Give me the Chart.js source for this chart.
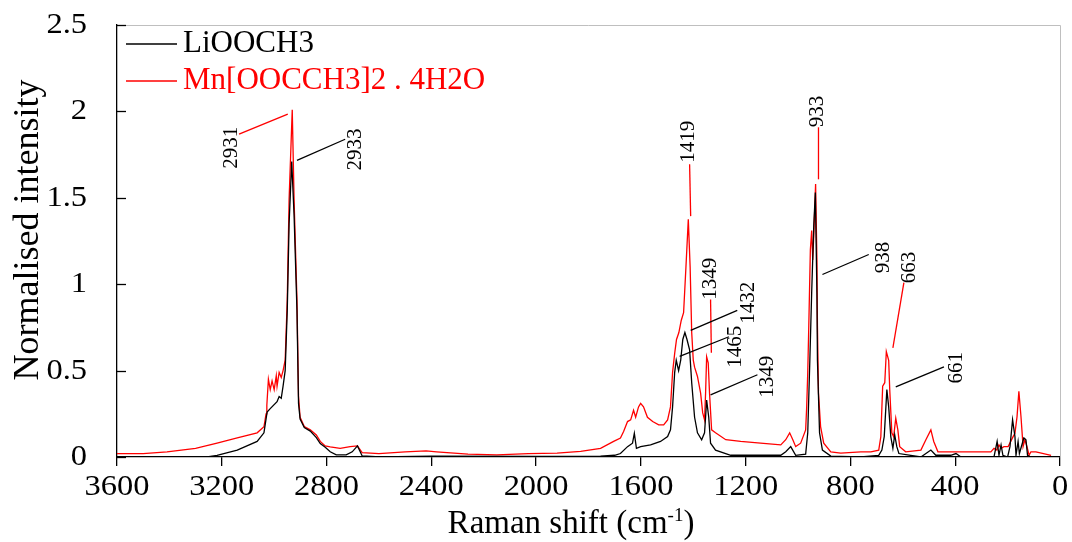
<!DOCTYPE html>
<html><head><meta charset="utf-8">
<script src="https://cdn.jsdelivr.net/npm/chart.js@4"></script>
<style>html,body{margin:0;padding:0;background:#fff}#wrap{width:1072px;height:542px;position:relative}</style>
</head><body><div id="wrap"><canvas id="c"></canvas></div>
<script>
// ---------- data ----------
const seriesNames = ['LiOOCH3', 'Mn[OOCCH3]2 . 4H2O'];
const seriesColors = ['#000000', '#ff0000'];

const liShift = [3450,3256,3218,3141,3065,3039,3027,3015,2989,2981,2973,2966,2958,2950,2943,2933,2924,2913,2907,2901,2885,2862,2839,2824,2805,2786,2763,2725,2702,2682,2664,2595,2400,2000,1754,1700,1678,1651,1632,1625,1617,1601,1563,1525,1498,1487,1479,1471,1465,1456,1448,1440,1432,1424,1414,1406,1395,1384,1368,1357,1353,1349,1341,1334,1315,1257,1066,1047,1028,1009,971,963,955,948,940,934,928,926,918,907,875,760,692,680,671,661,654,646,638,631,623,615,531,493,474,417,397,378,252,240,233,225,218,200,191,181,172,168,160,155,138,130,124,111];
const liIntensity = [0,0,0.01,0.04,0.09,0.14,0.26,0.28,0.32,0.35,0.34,0.41,0.50,0.85,1.35,1.71,1.40,0.85,0.31,0.22,0.17,0.15,0.112,0.078,0.056,0.03,0.012,0.012,0.03,0.064,0.006,0,0.005,0.003,0.005,0.01,0.02,0.06,0.08,0.137,0.05,0.06,0.07,0.09,0.118,0.157,0.29,0.49,0.56,0.50,0.56,0.68,0.72,0.68,0.62,0.43,0.23,0.14,0.1,0.14,0.23,0.33,0.23,0.08,0.04,0.01,0.01,0.03,0.06,0.01,0.017,0.14,0.56,0.95,1.34,1.53,0.95,0.56,0.14,0.04,0.005,0,0.01,0.04,0.118,0.39,0.29,0.118,0.05,0.128,0.06,0.02,0,0.04,0.01,0.01,0.02,0,0,0.09,0.01,0.07,0.01,0,0.06,0.215,0.118,0.01,0.09,0.02,0.11,0.1,0.01,0];

const mnShift = [3600,3500,3409,3300,3218,3141,3065,3039,3031,3028,3022,3015,3008,3000,2992,2989,2981,2973,2966,2958,2950,2943,2931,2924,2913,2907,2901,2885,2862,2839,2824,2805,2786,2748,2710,2682,2664,2600,2500,2420,2380,2260,2150,2030,1920,1830,1754,1704,1678,1666,1651,1639,1628,1620,1609,1601,1590,1575,1555,1532,1513,1498,1487,1479,1471,1464,1455,1446,1437,1428,1419,1412,1406,1400,1395,1384,1372,1364,1357,1353,1349,1343,1338,1330,1315,1276,1219,1143,1066,1047,1032,1020,1009,990,971,967,963,959,953,948,944,940,933,928,926,922,914,902,875,837,760,722,692,684,677,669,663,654,650,642,635,627,619,612,589,531,512,493,482,466,417,359,264,252,241,233,225,214,198,179,172,164,157,149,141,134,126,118,111,92,34];
const mnIntensity = [0.02,0.02,0.03,0.05,0.08,0.11,0.14,0.175,0.25,0.30,0.45,0.39,0.44,0.39,0.47,0.41,0.49,0.46,0.50,0.56,0.91,1.49,2.01,1.49,0.91,0.35,0.23,0.176,0.157,0.128,0.09,0.064,0.058,0.05,0.06,0.064,0.025,0.02,0.03,0.035,0.03,0.017,0.012,0.02,0.023,0.033,0.05,0.09,0.11,0.147,0.205,0.215,0.27,0.23,0.29,0.31,0.29,0.23,0.205,0.186,0.186,0.215,0.29,0.49,0.60,0.68,0.72,0.79,0.835,1.10,1.375,1.10,0.72,0.56,0.52,0.466,0.37,0.255,0.215,0.37,0.58,0.545,0.37,0.157,0.14,0.1,0.09,0.08,0.07,0.1,0.14,0.1,0.06,0.08,0.157,0.29,0.49,0.76,1.20,1.31,1.14,1.28,1.58,1.14,0.76,0.37,0.176,0.08,0.03,0.023,0.03,0.03,0.04,0.118,0.41,0.43,0.61,0.56,0.39,0.14,0.118,0.224,0.157,0.06,0.03,0.04,0.1,0.157,0.09,0.03,0.03,0.03,0.03,0.05,0.04,0.07,0.05,0.06,0.06,0.118,0.137,0.234,0.38,0.234,0.06,0.1,0.06,0.01,0.03,0.03,0.01];

const xTickValues = [3600,3200,2800,2400,2000,1600,1200,800,400,0];
const yTickValues = [0,0.5,1,1.5,2,2.5];
const xTitle = 'Raman shift (cm';
const xTitleSup = '-1';
const yTitle = 'Normalised intensity';

// peak annotations: text, series index, text centre (shift, intensity), leader line ends
const peakText   = ['2931','2933','1419','933','1349','1432','1465','1349','938','663','661'];
const peakSeries = [1,0,1,1,1,0,0,0,0,1,0];
const peakTextX  = [3162,2690,1418,927,1334,1189,1238,1117,673,573,394];
const peakTextY  = [1.79,1.78,1.824,2.0,1.032,0.893,0.638,0.464,1.154,1.096,0.516];
const leaderFromX = [3134,2913,1414,922,1334,1410,1452,1334,907,596,627];
const leaderFromY = [1.868,1.717,1.694,1.908,0.911,0.733,0.582,0.36,1.056,1.009,0.406];
const leaderToX   = [2948,2729,1410,922,1331,1232,1264,1155,730,638,443];
const leaderToY   = [1.984,1.839,1.394,1.607,0.603,0.849,0.696,0.476,1.172,0.632,0.522];

// ---------- helpers ----------
const FONT = '"Liberation Serif", "Times New Roman", serif';
function drawText(ctx, txt, x, y, o) {
  ctx.save();
  ctx.translate(x, y);
  if (o.rot) ctx.rotate(o.rot);
  ctx.scale(o.sx || 1, o.sy || 1);
  ctx.font = o.size + 'px ' + FONT;
  ctx.fillStyle = o.color || '#000';
  ctx.textAlign = o.align || 'center';
  ctx.textBaseline = o.baseline || 'middle';
  ctx.fillText(txt, 0, 0);
  ctx.restore();
}

const decor = {
  id: 'decor',
  afterDraw(chart) {
    const ctx = chart.ctx, a = chart.chartArea;
    const xs = chart.scales.x, ys = chart.scales.y;
    ctx.save();
    // gray frame top/right
    ctx.strokeStyle = '#bfbfbf'; ctx.lineWidth = 1;
    ctx.beginPath();
    ctx.moveTo(a.left, a.top + 0.5); ctx.lineTo(a.right + 0.5, a.top + 0.5); ctx.lineTo(a.right + 0.5, a.bottom);
    ctx.stroke();
    // y ticks (inside)
    ctx.strokeStyle = '#000'; ctx.lineWidth = 1.3;
    yTickValues.forEach(v => {
      const py = Math.round(ys.getPixelForValue(v)) + 0.5;
      ctx.beginPath(); ctx.moveTo(a.left, py); ctx.lineTo(a.left + 9, py); ctx.stroke();
      drawText(ctx, String(v), a.left - 30, py, {size: 29, sx: 1.12, align: 'right'});
    });
    // x tick labels
    xTickValues.forEach(v => {
      const px = xs.getPixelForValue(v);
      drawText(ctx, String(v), px, a.bottom + 30, {size: 29, sx: 1.12});
    });
    // axis titles
    drawText(ctx, yTitle, 29, 230, {size: 36, rot: -Math.PI / 2});
    ctx.font = '33px ' + FONT;
    const w1 = ctx.measureText(xTitle).width;
    ctx.font = '19px ' + FONT;
    const w2 = ctx.measureText(xTitleSup).width;
    ctx.font = '33px ' + FONT;
    const w3 = ctx.measureText(')').width;
    let sx0 = 571 - (w1 + w2 + w3) / 2;
    const base = 533;
    drawText(ctx, xTitle, sx0, base, {size: 33, align: 'left', baseline: 'alphabetic'});
    drawText(ctx, xTitleSup, sx0 + w1, base - 12, {size: 19, align: 'left', baseline: 'alphabetic'});
    drawText(ctx, ')', sx0 + w1 + w2, base, {size: 33, align: 'left', baseline: 'alphabetic'});
    // annotations
    peakText.forEach((t, i) => {
      ctx.strokeStyle = seriesColors[peakSeries[i]]; ctx.lineWidth = 1.3;
      ctx.beginPath();
      ctx.moveTo(xs.getPixelForValue(leaderFromX[i]), ys.getPixelForValue(leaderFromY[i]));
      ctx.lineTo(xs.getPixelForValue(leaderToX[i]), ys.getPixelForValue(leaderToY[i]));
      ctx.stroke();
      drawText(ctx, t, xs.getPixelForValue(peakTextX[i]), ys.getPixelForValue(peakTextY[i]), {size: 21, rot: -Math.PI / 2});
    });
    // legend
    chart.data.datasets.forEach((ds, i) => {
      const ly = a.top + 19 + i * 37;
      ctx.strokeStyle = ds.borderColor; ctx.lineWidth = 1.3;
      ctx.beginPath(); ctx.moveTo(a.left + 9, ly); ctx.lineTo(a.left + 60, ly); ctx.stroke();
      drawText(ctx, ds.label, a.left + 66, ly, {size: 31, align: 'left', color: ds.borderColor});
    });
    ctx.restore();
  }
};

const toPoints = (xsArr, ysArr) => xsArr.map((x, i) => ({x, y: ysArr[i]}));

new Chart(document.getElementById('c'), {
  type: 'scatter',
  data: {
    datasets: [
      {label: seriesNames[0], data: toPoints(liShift, liIntensity), borderColor: seriesColors[0], backgroundColor: seriesColors[0], showLine: true, pointRadius: 0, borderWidth: 1.3, tension: 0},
      {label: seriesNames[1], data: toPoints(mnShift, mnIntensity), borderColor: seriesColors[1], backgroundColor: seriesColors[1], showLine: true, pointRadius: 0, borderWidth: 1.3, tension: 0}
    ]
  },
  options: {
    responsive: true, maintainAspectRatio: false, animation: false,
    layout: {padding: {top: 25, right: 12, left: 0, bottom: 0}},
    plugins: {legend: {display: false}, tooltip: {enabled: false}},
    scales: {
      x: {
        type: 'linear', min: 0, max: 3600, reverse: true,
        afterFit(s) { s.height = 85; },
        afterBuildTicks(s) { s.ticks = xTickValues.map(v => ({value: v})); },
        ticks: {display: false},
        grid: {drawOnChartArea: false, drawTicks: true, tickLength: 9, color: '#000', lineWidth: 1.3},
        border: {display: true, color: '#000', width: 1.3}
      },
      y: {
        type: 'linear', min: 0, max: 2.5,
        afterFit(s) { s.width = 117; },
        afterBuildTicks(s) { s.ticks = yTickValues.map(v => ({value: v})); },
        ticks: {display: false},
        grid: {display: true, drawOnChartArea: false, drawTicks: false},
        border: {display: true, color: '#000', width: 1.3}
      }
    }
  },
  plugins: [decor]
});
</script></body></html>
